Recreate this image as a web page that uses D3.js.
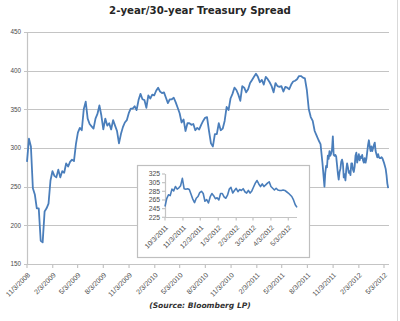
<!DOCTYPE html>
<html><head><meta charset="utf-8">
<script src="https://cdn.jsdelivr.net/npm/d3@7"></script>
<style>body{margin:0;background:#fff}svg{display:block}</style>
</head><body>
<script>
const chartTitle = "2-year/30-year Treasury Spread";
const sourceText = "(Source: Bloomberg LP)";
// weekly values (bp) starting 11/3/2008 through 9/26/2011
const weeklyStart = "11/3/2008";
const weeklyValues = [
282,312,302,248,240,222,222,180,178,218,
222,228,258,270,264,262,272,262,270,268,
280,276,282,285,283,305,320,326,323,350,
360,338,331,328,325,338,344,355,342,324,
338,329,332,324,336,329,322,306,318,327,
333,336,345,351,351,354,349,362,370,363,
362,352,368,364,369,368,374,378,373,371,
372,365,358,363,363,365,359,352,345,333,
337,322,332,332,330,331,323,326,324,330,
335,339,340,322,306,302,318,318,332,323,
325,335,353,349,364,370,378,375,369,361,
380,378,372,376,384,388,392,396,392,385,
388,382,392,389,385,380,372,384,380,379,
380,373,379,378,376,382,386,387,389,393,
393,391,390,375,350,340,335,322,316,310,
305,280];
// values every 3 days starting 10/3/2011
const recentStart = "10/3/2011";
const recentValues = [
250,268,277,275,290,286,296,290,293,298,
315,291,290,291,289,278,267,259,269,273,
282,285,280,262,266,258,272,280,275,268,
270,265,280,280,272,269,276,290,294,281,
287,292,284,289,287,291,284,281,287,281,
286,295,304,310,302,296,302,296,300,304,
307,296,292,288,292,288,287,287,288,287,
284,281,277,273,265,254,248];
const mainXTicks = ["11/3/2008","2/3/2009","5/3/2009","8/3/2009","11/3/2009","2/3/2010","5/3/2010","8/3/2010","11/3/2010","2/3/2011","5/3/2011","8/3/2011","11/3/2011","2/3/2012","5/3/2012"];
const mainYTicks = [150,200,250,300,350,400,450];
const insetXTicks = ["10/3/2011","11/3/2011","12/3/2011","1/3/2012","2/3/2012","3/3/2012","4/3/2012","5/3/2012"];
const insetYTicks = [225,245,265,285,305,325];

const parse = d3.timeParse("%m/%d/%Y");

const ws = parse(weeklyStart), rs = parse(recentStart);
const weekly = weeklyValues.map((v,i)=>({date:d3.timeDay.offset(ws,7*i), v}));
const recent = recentValues.map((v,i)=>({date:d3.timeDay.offset(rs,3*i), v}));
const all = weekly.concat(recent);

const W=400,H=321;
const svg = d3.select("body").append("svg").attr("width",W).attr("height",H);
svg.append("rect").attr("width",W).attr("height",H).attr("fill","#fff");
svg.append("line").attr("x1",397.5).attr("x2",397.5).attr("y1",0).attr("y2",H).attr("stroke","#d9d9d9");

const grid="#c4c4c4", lineCol="#4a7ebb", txt="#4a4a4a";

svg.append("text").attr("x",200).attr("y",14).attr("text-anchor","middle")
  .attr("font-family","DejaVu Sans").attr("font-weight","bold").attr("font-size",10.2)
  .attr("fill","#262626").text(chartTitle);

// main scales
const x = d3.scaleTime().domain([parse(mainXTicks[0]), parse(mainXTicks[mainXTicks.length-1])]).range([27,384]);
const y = d3.scaleLinear().domain([150,450]).range([264,32]);
const xEnd = 389;

const g = svg.append("g");
g.selectAll(".grid").data(mainYTicks).join("line")
  .attr("x1",24).attr("x2",xEnd).attr("y1",d=>Math.round(y(d))+0.5).attr("y2",d=>Math.round(y(d))+0.5)
  .attr("stroke",grid).attr("stroke-width",1.2);
g.append("line").attr("x1",27.5).attr("x2",27.5).attr("y1",y(450)).attr("y2",y(150)+0.5).attr("stroke",grid).attr("stroke-width",1.2);
g.selectAll(".xt").data(mainXTicks).join("line")
  .attr("x1",d=>x(parse(d))).attr("x2",d=>x(parse(d))).attr("y1",264).attr("y2",268)
  .attr("stroke",grid).attr("stroke-width",1.2);
g.selectAll(".yl").data(mainYTicks).join("text")
  .attr("x",21).attr("y",d=>y(d)+2.2).attr("text-anchor","end")
  .attr("font-family","Liberation Sans").attr("font-size",6.3).attr("fill",txt).text(d=>d);
g.selectAll(".xl").data(mainXTicks).join("text")
  .attr("transform",d=>`translate(${x(parse(d))+3.5},${275.5}) rotate(-45)`)
  .attr("text-anchor","end").attr("font-family","Liberation Sans").attr("font-size",7)
  .attr("fill",txt).text(d=>d);

const line = d3.line().x(d=>x(d.date)).y(d=>y(d.v));
g.append("path").datum(all).attr("d",line).attr("fill","none")
  .attr("stroke",lineCol).attr("stroke-width",1.8).attr("stroke-linejoin","round");

// inset
const ig = svg.append("g");
ig.append("rect").attr("x",137.5).attr("y",165.5).attr("width",172).attr("height",92)
  .attr("fill","#fff").attr("stroke","#bfbfbf").attr("stroke-width",1.2);
const ix = d3.scaleTime().domain([parse(insetXTicks[0]), parse(insetXTicks[insetXTicks.length-1])]).range([165,288.3]);
const iy = d3.scaleLinear().domain([225,325]).range([217.3,174]);
ig.append("line").attr("x1",165.5).attr("x2",165.5).attr("y1",iy(325)).attr("y2",iy(225)).attr("stroke",grid).attr("stroke-width",1.2);
ig.append("line").attr("x1",165).attr("x2",297).attr("y1",217.5).attr("y2",217.5).attr("stroke",grid).attr("stroke-width",1.2);
ig.selectAll(".iyt").data(insetYTicks).join("line")
  .attr("x1",162).attr("x2",165).attr("y1",d=>iy(d)).attr("y2",d=>iy(d)).attr("stroke",grid).attr("stroke-width",1.2);
ig.selectAll(".ixt").data(insetXTicks).join("line")
  .attr("x1",d=>ix(parse(d))).attr("x2",d=>ix(parse(d))).attr("y1",217).attr("y2",220.5).attr("stroke",grid).attr("stroke-width",1.2);
ig.selectAll(".iyl").data(insetYTicks).join("text")
  .attr("x",160).attr("y",d=>iy(d)+2.4).attr("text-anchor","end")
  .attr("font-family","Liberation Sans").attr("font-size",6.8).attr("fill",txt).text(d=>d);
ig.selectAll(".ixl").data(insetXTicks).join("text")
  .attr("transform",d=>`translate(${ix(parse(d))+3.5},${228}) rotate(-45)`)
  .attr("text-anchor","end").attr("font-family","Liberation Sans").attr("font-size",6.8)
  .attr("fill",txt).text(d=>d);
const iline = d3.line().x(d=>ix(d.date)).y(d=>iy(d.v));
ig.append("path").datum(recent).attr("d",iline).attr("fill","none")
  .attr("stroke",lineCol).attr("stroke-width",1.6).attr("stroke-linejoin","round");

svg.append("text").attr("x",200).attr("y",308).attr("text-anchor","middle")
  .attr("font-family","DejaVu Sans").attr("font-weight","bold").attr("font-style","italic")
  .attr("font-size",7.6).attr("fill","#333").text(sourceText);
</script>
</body></html>
